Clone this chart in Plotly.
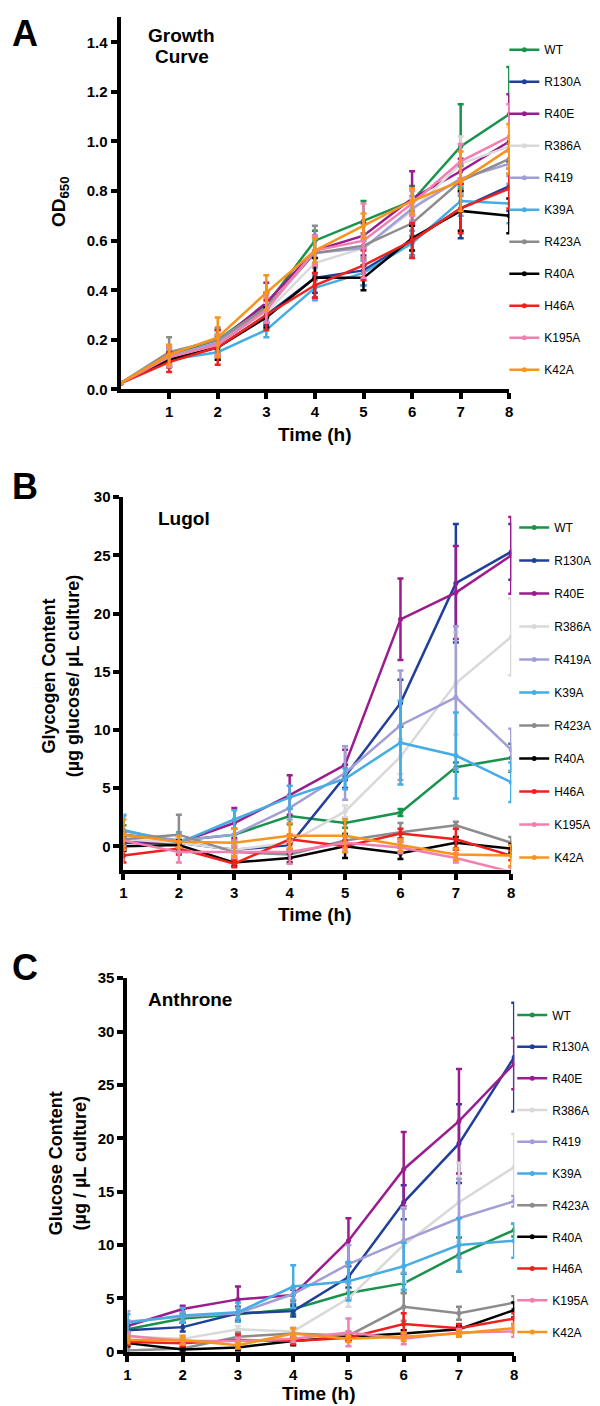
import plotly.graph_objs as go

strains = ["WT", "R130A", "R40E", "R386A", "R419", "K39A", "R423A", "R40A", "H46A", "K195A", "K42A"]
lugol_names = ["WT", "R130A", "R40E", "R386A", "R419A", "K39A", "R423A", "R40A", "H46A", "K195A", "K42A"]
colors = ["#17934b", "#1f3f9a", "#9b1c8e", "#d9d9d9", "#a19fd6", "#45ade3",
          "#8c8c8c", "#000000", "#f0201f", "#f27fb0", "#f7941d"]

growth_hours = [0, 1, 2, 3, 4, 5, 6, 7, 8]
assay_hours = [1, 2, 3, 4, 5, 6, 7, 8]

# OD650, one row per strain
growth_mean = [
    [0.025, 0.14, 0.20, 0.34, 0.60, 0.68, 0.76, 0.98, 1.11],
    [0.025, 0.12, 0.17, 0.30, 0.45, 0.48, 0.60, 0.73, 0.82],
    [0.025, 0.13, 0.19, 0.35, 0.56, 0.62, 0.77, 0.88, 1.00],
    [0.025, 0.13, 0.19, 0.31, 0.51, 0.57, 0.72, 0.91, 0.98],
    [0.025, 0.13, 0.19, 0.33, 0.55, 0.57, 0.73, 0.85, 0.91],
    [0.025, 0.12, 0.15, 0.24, 0.41, 0.47, 0.59, 0.76, 0.75],
    [0.025, 0.15, 0.20, 0.33, 0.55, 0.58, 0.67, 0.84, 0.93],
    [0.025, 0.12, 0.17, 0.29, 0.45, 0.45, 0.61, 0.72, 0.70],
    [0.025, 0.11, 0.17, 0.30, 0.42, 0.50, 0.60, 0.73, 0.81],
    [0.025, 0.13, 0.18, 0.32, 0.56, 0.60, 0.75, 0.92, 1.02],
    [0.025, 0.14, 0.21, 0.39, 0.56, 0.66, 0.76, 0.84, 0.97],
]
growth_err = [
    [0, 0.03, 0.04, 0.05, 0.04, 0.08, 0.06, 0.17, 0.19],
    [0, 0.03, 0.04, 0.04, 0.06, 0.06, 0.06, 0.12, 0.10],
    [0, 0.03, 0.05, 0.08, 0.06, 0.05, 0.11, 0.05, 0.19],
    [0, 0.03, 0.04, 0.04, 0.04, 0.04, 0.05, 0.11, 0.08],
    [0, 0.03, 0.05, 0.05, 0.06, 0.05, 0.05, 0.06, 0.05],
    [0, 0.03, 0.03, 0.03, 0.05, 0.05, 0.05, 0.06, 0.08],
    [0, 0.06, 0.05, 0.06, 0.11, 0.05, 0.05, 0.06, 0.06],
    [0, 0.03, 0.05, 0.04, 0.08, 0.05, 0.05, 0.08, 0.07],
    [0, 0.04, 0.07, 0.06, 0.05, 0.06, 0.07, 0.10, 0.08],
    [0, 0.04, 0.04, 0.05, 0.06, 0.15, 0.05, 0.07, 0.13],
    [0, 0.04, 0.08, 0.07, 0.05, 0.05, 0.05, 0.12, 0.10],
]

# Lugol glycogen content
lugol_mean = [
    [1.0, 0.5, 1.0, 2.6, 2.0, 2.9, 6.8, 7.6],
    [0.3, 0.3, -0.3, 0.1, 6.0, 12.3, 22.6, 25.3],
    [0.5, 0.3, 2.0, 4.4, 7.0, 19.5, 21.8, 25.0],
    [0.6, 0.3, -0.3, 0.3, 3.0, 7.7, 14.0, 18.0],
    [1.3, 0.5, 1.0, 3.3, 6.3, 10.4, 12.8, 8.3],
    [1.4, 0.3, 2.3, 4.2, 5.8, 8.9, 7.8, 5.5],
    [0.6, 1.0, -0.5, -0.7, 0.5, 1.2, 1.8, 0.3],
    [0.0, 0.1, -1.4, -1.0, 0.0, -0.6, 0.3, -0.2],
    [-0.8, -0.2, -1.5, 0.6, 0.0, 1.1, 0.6, -0.8],
    [0.5, -0.5, -0.5, -0.5, 0.3, -0.1, -1.0, -2.2],
    [1.0, 0.4, 0.3, 0.9, 0.9, 0.1, -0.7, -0.8],
]
lugol_err = [
    [0.8, 0.5, 0.5, 0.7, 0.4, 0.3, 0.4, 1.2],
    [0.5, 0.5, 0.4, 0.4, 1.0, 2.0, 5.1, 2.4],
    [0.8, 0.5, 1.3, 1.7, 1.3, 3.5, 4.0, 3.3],
    [0.6, 0.5, 0.4, 0.4, 0.5, 1.5, 4.4, 3.3],
    [1.3, 0.5, 0.5, 1.0, 2.3, 4.7, 6.1, 1.8],
    [1.3, 0.9, 0.8, 1.0, 0.9, 3.6, 3.7, 1.7],
    [0.6, 1.7, 0.4, 0.4, 0.6, 0.8, 0.3, 0.5],
    [0.4, 0.4, 0.3, 0.4, 1.0, 0.5, 0.5, 0.4],
    [0.6, 0.5, 0.3, 0.4, 0.5, 0.4, 0.9, 0.4],
    [0.5, 0.9, 0.5, 1.0, 0.5, 0.5, 0.4, 0.4],
    [1.3, 0.5, 1.2, 1.1, 1.4, 0.5, 0.5, 0.9],
]

# Anthrone glucose content
anthrone_mean = [
    [2.1, 3.1, 3.5, 4.0, 5.5, 6.4, 9.1, 11.4],
    [2.0, 2.3, 3.6, 3.8, 7.0, 14.0, 19.5, 27.6],
    [2.4, 4.0, 4.9, 5.3, 10.4, 17.1, 21.6, 27.0],
    [1.4, 1.2, 2.1, 1.9, 5.0, 10.0, 14.0, 17.3],
    [2.8, 3.3, 3.6, 5.4, 8.2, 10.4, 12.5, 14.1],
    [2.7, 3.4, 3.7, 6.1, 6.6, 8.0, 10.0, 10.4],
    [0.1, 0.3, 1.4, 1.7, 1.5, 4.2, 3.6, 4.6],
    [0.8, 0.2, 0.4, 1.0, 1.4, 1.7, 2.1, 3.9],
    [0.9, 0.8, 1.1, 1.0, 1.3, 2.6, 2.2, 3.1],
    [1.5, 1.0, 1.0, 1.2, 1.8, 1.2, 1.8, 1.9],
    [1.1, 1.1, 0.6, 1.7, 1.2, 1.4, 1.7, 2.2],
]
anthrone_err = [
    [0.4, 0.4, 0.6, 0.5, 0.5, 0.9, 1.6, 0.6],
    [0.4, 0.4, 0.6, 0.5, 1.0, 1.6, 3.7, 5.1],
    [0.5, 0.3, 1.2, 0.5, 2.1, 3.5, 4.9, 2.4],
    [0.3, 0.3, 0.3, 0.4, 0.8, 3.5, 3.7, 3.1],
    [1.0, 0.4, 0.5, 0.5, 1.8, 3.0, 3.7, 0.5],
    [0.8, 0.7, 0.9, 2.0, 1.8, 2.2, 2.5, 1.6],
    [0.3, 0.3, 0.4, 0.5, 0.4, 1.3, 0.6, 0.6],
    [0.3, 0.2, 0.3, 0.4, 0.3, 0.3, 0.3, 0.7],
    [0.3, 0.3, 0.5, 0.3, 0.3, 1.0, 0.4, 0.5],
    [0.3, 0.3, 0.3, 0.3, 1.3, 0.5, 0.3, 0.5],
    [0.3, 0.4, 0.3, 0.5, 0.3, 0.4, 0.3, 0.4],
]

W, H = 600, 1406
FONT = "Liberation Sans, Arial, Helvetica, sans-serif"


def px(p):
    return p / W


def py(p):
    return 1 - p / H


fig = go.Figure()

panels = [
    (growth_hours, growth_mean, growth_err, strains, "x", "y", "legend"),
    (assay_hours, lugol_mean, lugol_err, lugol_names, "x2", "y2", "legend2"),
    (assay_hours, anthrone_mean, anthrone_err, strains, "x3", "y3", "legend3"),
]
for hours, means, errs, names, xa, ya, lg in panels:
    for i in range(len(names)):
        fig.add_trace(go.Scatter(
            x=hours, y=means[i], name=names[i], mode="lines+markers",
            xaxis=xa, yaxis=ya, legend=lg, legendgroup=lg + names[i],
            line=dict(color=colors[i], width=2.5),
            marker=dict(color=colors[i], size=5),
            error_y=dict(type="data", array=errs[i], color=colors[i],
                         thickness=2.5, width=3),
        ))

axis_style = dict(
    showline=True, linecolor="black", linewidth=4, mirror=False,
    ticks="outside", ticklen=6, tickwidth=4, tickcolor="black",
    showgrid=False, zeroline=False,
    tickfont=dict(family=FONT, size=15, color="black", weight="bold"),
)

legend_style = dict(
    xanchor="left", yanchor="top", bgcolor="rgba(0,0,0,0)",
    font=dict(family=FONT, size=12, color="black"),
    traceorder="grouped", itemwidth=30,
)

fig.update_layout(
    width=W, height=H, margin=dict(l=0, r=0, t=0, b=0),
    plot_bgcolor="white", paper_bgcolor="white", showlegend=True,
    xaxis=dict(axis_style, domain=[px(110), px(504)], range=[0, 8],
               tickvals=[1, 2, 3, 4, 5, 6, 7, 8], anchor="y"),
    yaxis=dict(axis_style, domain=[py(377), py(0.5)], range=[0, 1.5],
               tickvals=[0, 0.2, 0.4, 0.6, 0.8, 1.0, 1.2, 1.4],
               tickformat=".1f", anchor="x"),
    xaxis2=dict(axis_style, domain=[px(113), px(506)], range=[1, 8],
                tickvals=[1, 2, 3, 4, 5, 6, 7, 8], anchor="y2"),
    yaxis2=dict(axis_style, domain=[py(863), py(486)], range=[-2, 30],
                tickvals=[0, 5, 10, 15, 20, 25, 30], anchor="x2"),
    xaxis3=dict(axis_style, domain=[px(117), px(509)], range=[1, 8],
                tickvals=[1, 2, 3, 4, 5, 6, 7, 8], anchor="y3"),
    yaxis3=dict(axis_style, domain=[py(1351), py(973)], range=[0, 35],
                tickvals=[0, 5, 10, 15, 20, 25, 30, 35], anchor="x3"),
    legend=dict(legend_style, x=px(499), y=py(18.5), tracegroupgap=13),
    legend2=dict(legend_style, x=px(509), y=py(502), tracegroupgap=14),
    legend3=dict(legend_style, x=px(507), y=py(995.5), tracegroupgap=12.7),
)

bold = dict(family=FONT, color="black", weight="bold")
notes = [
    ("A", 13, 17, 36, 0),
    ("B", 13, 475, 36, 0),
    ("C", 13, 962, 36, 0),
    ("Growth", 172, 19, 19, 0),
    ("Curve", 172, 40, 19, 0),
    ("Lugol", 174, 508, 19, 0),
    ("Anthrone", 180, 995, 19, 0),
    ("Time (h)", 307, 423, 19, 0),
    ("Time (h)", 307, 908, 19, 0),
    ("Time (h)", 311, 1393, 19, 0),
    ("OD<sub>650</sub>", 48, 187, 19, -90),
    ("Glycogen Content<br>(µg glucose/ µL culture)", 50, 667, 18, -90),
    ("Glucose Content<br>(µg / µL culture)", 57, 1160, 18, -90),
]
for text, x, y, size, ang in notes:
    fig.add_annotation(text=text, x=px(x), y=py(y), xref="paper", yref="paper",
                       showarrow=False, xanchor="center", yanchor="middle",
                       textangle=ang, font=dict(bold, size=size))

fig.write_html("out.html")
